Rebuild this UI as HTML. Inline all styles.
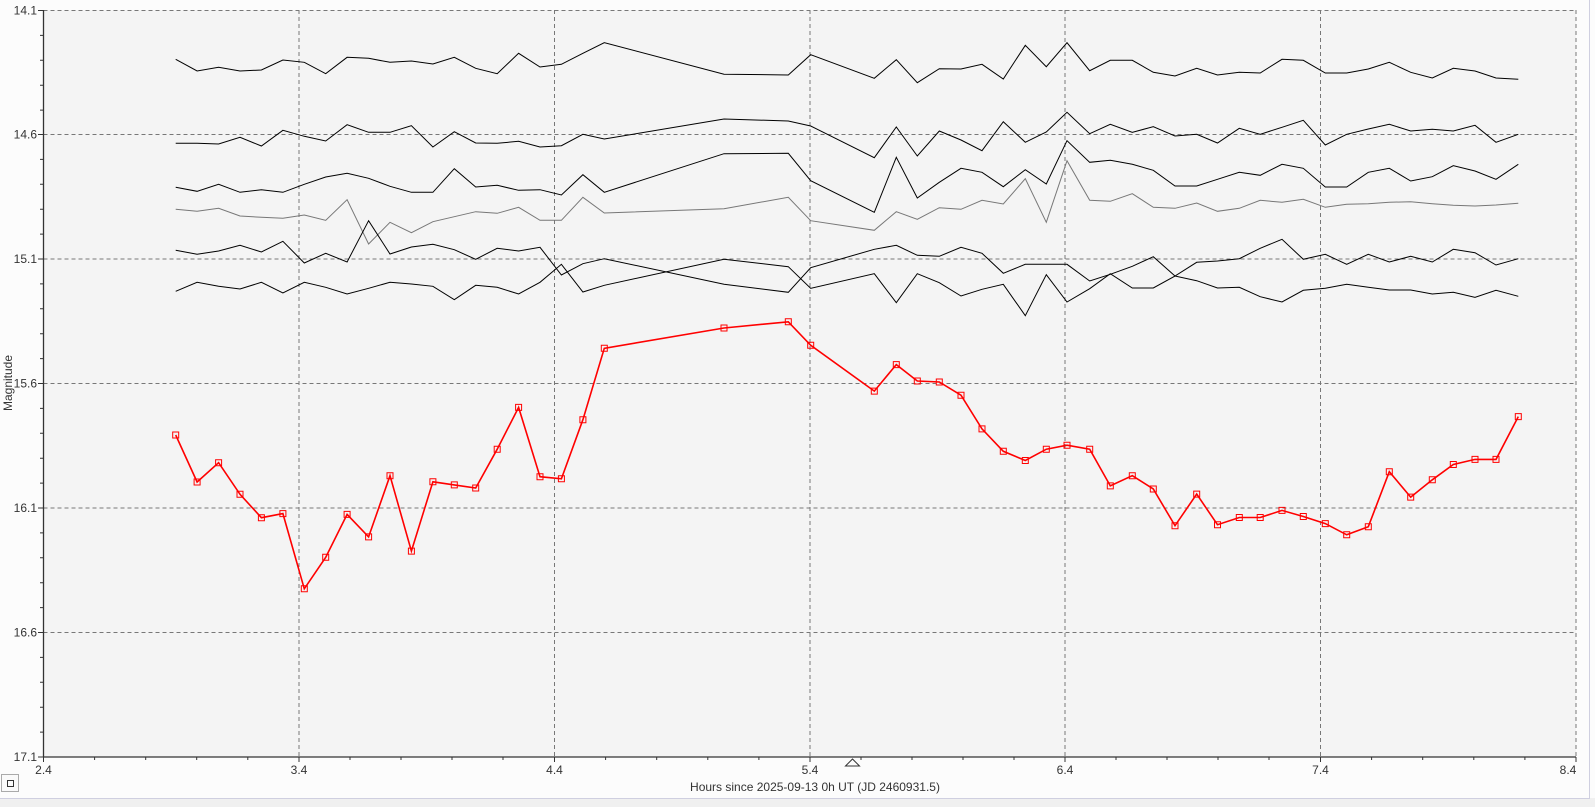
<!DOCTYPE html>
<html><head><style>
html,body{margin:0;padding:0;background:#fcfcfc;}
svg{display:block;font-family:"Liberation Sans",Arial,sans-serif;}
</style></head><body>
<svg width="1595" height="807" viewBox="0 0 1595 807" xmlns="http://www.w3.org/2000/svg">
<rect x="0" y="0" width="1595" height="807" fill="#fcfcfc"/>
<rect x="0" y="798" width="1595" height="9" fill="#f0f0f0"/>
<line x1="0" y1="798.5" x2="1590" y2="798.5" stroke="#cfcfe0"/>
<line x1="1589.5" y1="0" x2="1589.5" y2="798" stroke="#cfcfe0"/>
<rect x="43.5" y="10" width="1532.5" height="747" fill="#f4f4f4"/>
<g stroke="#777" stroke-dasharray="4,3" stroke-width="1">
<line x1="43.5" y1="10.5" x2="1576" y2="10.5"/>
<line x1="43.5" y1="134.5" x2="1576" y2="134.5"/>
<line x1="43.5" y1="259" x2="1576" y2="259"/>
<line x1="43.5" y1="383.5" x2="1576" y2="383.5"/>
<line x1="43.5" y1="508" x2="1576" y2="508"/>
<line x1="43.5" y1="632.5" x2="1576" y2="632.5"/>
<line x1="299" y1="10" x2="299" y2="757"/>
<line x1="554.5" y1="10" x2="554.5" y2="757"/>
<line x1="810" y1="10" x2="810" y2="757"/>
<line x1="1065" y1="10" x2="1065" y2="757"/>
<line x1="1320.5" y1="10" x2="1320.5" y2="757"/>
<line x1="1576" y1="10" x2="1576" y2="757"/>
</g>
<g stroke="#333" stroke-width="1.3">
<line x1="43.5" y1="10" x2="43.5" y2="757"/>
<line x1="43.5" y1="757" x2="1576" y2="757"/>
</g>
<g stroke="#333" stroke-width="1">
<path d="M38 10.5H43.5M40 35.4H43.5M40 60.3H43.5M40 85.2H43.5M40 110.1H43.5M38 134.5H43.5M40 159.4H43.5M40 184.3H43.5M40 209.2H43.5M40 234.1H43.5M38 259H43.5M40 283.9H43.5M40 308.8H43.5M40 333.7H43.5M40 358.6H43.5M38 383.5H43.5M40 408.4H43.5M40 433.3H43.5M40 458.2H43.5M40 483.1H43.5M38 508H43.5M40 532.9H43.5M40 557.8H43.5M40 582.7H43.5M40 607.6H43.5M38 632.5H43.5M40 657.4H43.5M40 682.3H43.5M40 707.2H43.5M40 732.1H43.5M38 757H43.5"/>
<path d="M43.5 757v5M94.6 757v3M145.7 757v3M196.7 757v3M247.8 757v3M299 757v5M350 757v3M401 757v3M452 757v3M503 757v3M554.5 757v5M605.6 757v3M656.7 757v3M707.8 757v3M758.9 757v3M810 757v5M861 757v3M912 757v3M963 757v3M1014 757v3M1065 757v5M1116 757v3M1167 757v3M1218 757v3M1269 757v3M1320.5 757v5M1371.6 757v3M1422.7 757v3M1473.8 757v3M1524.9 757v3M1576 757v5"/>
</g>
<g font-size="12" fill="#333" text-anchor="end">
<text x="37" y="14.5">14.1</text><text x="37" y="138.5">14.6</text><text x="37" y="263">15.1</text><text x="37" y="387.5">15.6</text><text x="37" y="512">16.1</text><text x="37" y="636.5">16.6</text><text x="37" y="761">17.1</text>
</g>
<g font-size="12" fill="#333" text-anchor="middle">
<text x="43.5" y="774">2.4</text><text x="299" y="774">3.4</text><text x="554.5" y="774">4.4</text><text x="810" y="774">5.4</text><text x="1065" y="774">6.4</text><text x="1320.5" y="774">7.4</text><text x="1568" y="774">8.4</text>
<text x="815" y="791">Hours since 2025-09-13 0h UT (JD 2460931.5)</text>
<text transform="translate(12,383) rotate(-90)">Magnitude</text>
</g>
<path d="M845.5 766L852.5 759L859.5 766Z" fill="none" stroke="#333"/>
<rect x="1.5" y="774.5" width="17" height="17" fill="#fafafa" stroke="#aaa"/>
<rect x="7.5" y="780.5" width="6" height="6" fill="none" stroke="#333"/>
<g fill="none" stroke="#000" stroke-width="1">
<polyline points="175.7,59.3 197.1,71 218.6,67.3 240,71 261.4,70 282.9,60 304.3,62.3 325.7,73.7 347.1,57.3 368.6,58.3 390,62.3 411.4,61 432.9,64 454.3,57.3 475.7,68.3 497.2,73.7 518.6,53.3 540,67 561.4,64.3 582.9,53.3 604.3,42.7 724,74.2 788.3,75 810.7,54.7 874.3,78.3 896.3,59.7 917.3,82.7 939.3,68.7 961,69 982,64.3 1003.3,79 1025.3,45.3 1046.3,66.7 1067,42.7 1089.7,70.7 1110.3,60.3 1132.3,60.3 1153.3,72.3 1175,76 1196.7,68.3 1217.5,75 1239.3,72.3 1260.2,73 1282,59.3 1303.3,60.3 1325.3,73 1346.7,73 1368.3,69 1389.3,62.3 1410.7,72.3 1432.3,78 1453.3,68.3 1475,71 1496,78 1518.3,79.3"/>
<polyline points="175.7,143.3 197.1,143.3 218.6,144 240,137.3 261.4,146 282.9,130.3 304.3,136.3 325.7,141 347.1,124.7 368.6,132.3 390,132.3 411.4,125.7 432.9,147 454.3,131.7 475.7,143 497.2,143.3 518.6,141.3 540,147 561.4,145.7 582.9,134.3 604.3,139 724,119 788.3,121 810.7,126 874.3,157.7 896.3,127 917.3,156 939.3,131 961,140 982,150.7 1003.3,121.7 1025.3,142.3 1046.3,132 1067,112.3 1089.7,133.7 1110.3,124.3 1132.3,132.3 1153.3,126.7 1175,136 1196.7,134.3 1217.5,143 1239.3,128.3 1260.2,134.3 1282,127.3 1303.3,120.3 1325.3,145 1346.7,134.3 1368.3,129 1389.3,124.3 1410.7,131 1432.3,129.3 1453.3,131 1475,125.3 1496,142.3 1518.3,134.3"/>
<polyline points="175.7,187.3 197.1,191.3 218.6,184.3 240,192.3 261.4,189.7 282.9,192.3 304.3,184.3 325.7,177 347.1,173.3 368.6,178.3 390,186.3 411.4,192.3 432.9,192.3 454.3,168.7 475.7,187 497.2,185.3 518.6,190.3 540,189.7 561.4,195 582.9,174.7 604.3,192.3 724,153.7 788.3,153.3 810.7,180.7 874.3,212.3 896.3,157.3 917.3,198 939.3,182.3 961,168.3 982,172.3 1003.3,186.7 1025.3,169.7 1046.3,184 1067,140.7 1089.7,162.3 1110.3,160.3 1132.3,164.3 1153.3,170.3 1175,186 1196.7,186 1217.5,179.3 1239.3,172.3 1260.2,175.3 1282,164.3 1303.3,168.3 1325.3,187 1346.7,187 1368.3,172.3 1389.3,168.3 1410.7,181 1432.3,176.7 1453.3,165.7 1475,171 1496,179.3 1518.3,164.3"/>
<polyline stroke="#777" points="175.7,209.3 197.1,211.3 218.6,208.3 240,216 261.4,217.3 282.9,218.3 304.3,215 325.7,220.3 347.1,199.7 368.6,244 390,222.3 411.4,232.7 432.9,221.7 454.3,216.7 475.7,211.7 497.2,213.3 518.6,207.3 540,220.3 561.4,220.3 582.9,197.3 604.3,213 724,208.7 788.3,197.3 810.7,220.7 874.3,230.3 896.3,211.7 917.3,219.3 939.3,207.7 961,209.3 982,200.3 1003.3,204 1025.3,178.7 1046.3,222.3 1067,160.7 1089.7,200.3 1110.3,201.3 1132.3,193.7 1153.3,207.3 1175,208.3 1196.7,203 1217.5,211.3 1239.3,208.3 1260.2,200.3 1282,202.3 1303.3,199.3 1325.3,207.3 1346.7,204.3 1368.3,203.7 1389.3,202.3 1410.7,201.7 1432.3,203.7 1453.3,205.3 1475,206 1496,205 1518.3,203.3"/>
<polyline points="175.7,250.3 197.1,254.3 218.6,251 240,245.3 261.4,252 282.9,241.3 304.3,263 325.7,253.3 347.1,262 368.6,220.7 390,254 411.4,247 432.9,244.3 454.3,249.7 475.7,259.3 497.2,248.3 518.6,251 540,247.3 561.4,275 582.9,263.7 604.3,258.7 724,284.3 788.3,292.3 810.7,267.7 874.3,249.3 896.3,245.3 917.3,255.3 939.3,256.3 961,247.3 982,253.3 1003.3,273.3 1025.3,264.3 1046.3,264.3 1067,264.3 1089.7,281 1110.3,274.3 1132.3,266.3 1153.3,256.7 1175,276 1196.7,262.3 1217.5,261 1239.3,258.7 1260.2,248.3 1282,239.3 1303.3,259.3 1325.3,254.3 1346.7,264.3 1368.3,254.3 1389.3,262 1410.7,256.3 1432.3,262 1453.3,249.3 1475,252.7 1496,265 1518.3,258.7"/>
<polyline points="175.7,291.3 197.1,282.3 218.6,286.3 240,289 261.4,282.3 282.9,293 304.3,282.3 325.7,287.3 347.1,294 368.6,288.3 390,282.3 411.4,284 432.9,286.3 454.3,299.7 475.7,285.3 497.2,287.3 518.6,294 540,282.3 561.4,264.3 582.9,292 604.3,285.3 724,259.3 788.3,266.7 810.7,288.3 874.3,273.7 896.3,302.7 917.3,273.7 939.3,282.7 961,296 982,289.3 1003.3,284.3 1025.3,315.7 1046.3,274.7 1067,302 1089.7,288.7 1110.3,273.7 1132.3,288 1153.3,288 1175,276 1196.7,280.7 1217.5,288 1239.3,287.3 1260.2,296.7 1282,302 1303.3,290.3 1325.3,288.3 1346.7,284.3 1368.3,287.3 1389.3,290 1410.7,290 1432.3,294 1453.3,292.3 1475,297.3 1496,290.3 1518.3,296.3"/>
</g>
<g id="red" fill="none" stroke="#ff0000" stroke-width="1.6">
<polyline points="175.7,435 197.1,482 218.6,462.7 240,494.3 261.4,517.7 282.9,513.6 304.3,588.8 325.7,557.3 347.1,514.4 368.6,536.9 390,475.7 411.4,551.1 432.9,481.8 454.3,484.9 475.7,488 497.2,449.2 518.6,407.4 540,476.7 561.4,478.8 582.9,419.7 604.3,348.3 724,328 788.3,321.8 810.7,345.3 874.3,391.1 896.3,364.6 917.3,381 939.3,382 961,395.2 982,428.9 1003.3,451.3 1025.3,460.5 1046.3,449.2 1067,445.2 1089.7,449.2 1110.3,485.9 1132.3,475.7 1153.3,489 1175,525.7 1196.7,494.1 1217.5,524.7 1239.3,517.5 1260.2,517.5 1282,510.4 1303.3,516.5 1325.3,523.6 1346.7,534.8 1368.3,526.7 1389.3,471.7 1410.7,497.1 1432.3,479.8 1453.3,464.5 1475,459.4 1496,459.4 1518.3,416.6"/>
</g>
<g fill="#f4f4f4" stroke="#ff0000" stroke-width="1">
<script>/*no-op*/</script>
</g>
<g fill="none" stroke="#ff0000" stroke-width="1">
<path d="M172.7 432h6v6h-6zM194.1 479h6v6h-6zM215.6 459.7h6v6h-6zM237 491.3h6v6h-6zM258.4 514.7h6v6h-6zM279.9 510.6h6v6h-6zM301.3 585.8h6v6h-6zM322.7 554.3h6v6h-6zM344.1 511.4h6v6h-6zM365.6 533.9h6v6h-6zM387 472.7h6v6h-6zM408.4 548.1h6v6h-6zM429.9 478.8h6v6h-6zM451.3 481.9h6v6h-6zM472.7 485h6v6h-6zM494.2 446.2h6v6h-6zM515.6 404.4h6v6h-6zM537 473.7h6v6h-6zM558.4 475.8h6v6h-6zM579.9 416.7h6v6h-6zM601.3 345.3h6v6h-6zM721 325h6v6h-6zM785.3 318.8h6v6h-6zM807.7 342.3h6v6h-6zM871.3 388.1h6v6h-6zM893.3 361.6h6v6h-6zM914.3 378h6v6h-6zM936.3 379h6v6h-6zM958 392.2h6v6h-6zM979 425.9h6v6h-6zM1000.3 448.3h6v6h-6zM1022.3 457.5h6v6h-6zM1043.3 446.2h6v6h-6zM1064 442.2h6v6h-6zM1086.7 446.2h6v6h-6zM1107.3 482.9h6v6h-6zM1129.3 472.7h6v6h-6zM1150.3 486h6v6h-6zM1172 522.7h6v6h-6zM1193.7 491.1h6v6h-6zM1214.5 521.7h6v6h-6zM1236.3 514.5h6v6h-6zM1257.2 514.5h6v6h-6zM1279 507.4h6v6h-6zM1300.3 513.5h6v6h-6zM1322.3 520.6h6v6h-6zM1343.7 531.8h6v6h-6zM1365.3 523.7h6v6h-6zM1386.3 468.7h6v6h-6zM1407.7 494.1h6v6h-6zM1429.3 476.8h6v6h-6zM1450.3 461.5h6v6h-6zM1472 456.4h6v6h-6zM1493 456.4h6v6h-6zM1515.3 413.6h6v6h-6z"/>
</g>
</svg>
</body></html>
